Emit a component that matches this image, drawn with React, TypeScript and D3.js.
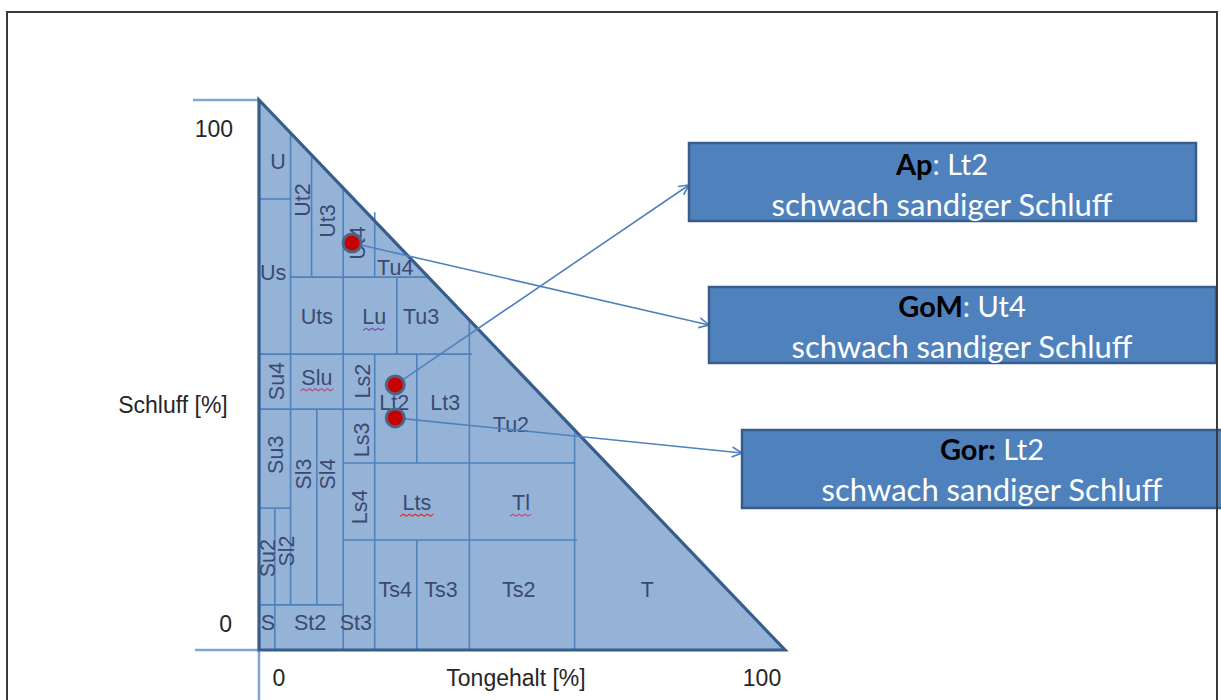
import React from "react";
import * as d3 from "d3";

// ---- data (percent units: clay = Tongehalt, silt = Schluff) ----
const clayDomain: [number, number] = [0, 100];
const siltDomain: [number, number] = [0, 100];
const clayTicks = [0, 100];
const siltTicks = [0, 100];
const clayTitle = "Tongehalt [%]";
const siltTitle = "Schluff [%]";

// class boundary segments [clay1, silt1, clay2, silt2]
const boundaries: [number, number, number, number][] = [
  [6, 94, 6, 8.2],
  [10, 90, 10, 67.8],
  [16, 84, 16, 0],
  [22, 79.6, 22, 67.8],
  [22, 53.8, 22, 0],
  [26.2, 67.8, 26.2, 53.8],
  [30, 53.8, 30, 34],
  [30, 20, 30, 0],
  [40, 60, 40, 0],
  [60, 39.5, 60, 0],
  [3, 25.8, 3, 0],
  [11, 43.8, 11, 8.2],
  [0, 82, 6, 82],
  [6, 67.8, 32.2, 67.8],
  [0, 53.8, 40.5, 53.8],
  [0, 43.8, 22, 43.8],
  [16, 34, 60, 34],
  [0, 25.8, 6, 25.8],
  [16, 20, 60.5, 20],
  [0, 8.2, 16, 8.2],
];

const classNames = ["U", "Ut2", "Ut3", "Ut4", "Tu4", "Us", "Uts", "Lu", "Tu3", "Su4", "Slu", "Ls2", "Lt2", "Lt3", "Tu2", "Su3", "Sl3", "Sl4", "Ls3", "Ls4", "Lts", "Tl", "Su2", "Sl2", "Ts4", "Ts3", "Ts2", "T", "S", "St2", "St3"];
const classClay = [3.6, 8.4, 13.1, 18.8, 25.9, 2.7, 11, 21.9, 30.8, 3.4, 11, 19.8, 25.7, 35.4, 47.9, 3.2, 8.6, 13.1, 19.6, 19.2, 30, 49.8, 1.7, 5.3, 25.9, 34.6, 49.4, 73.8, 1.7, 9.7, 18.4];
const classSilt = [88.7, 81.8, 78, 74, 69.5, 68.5, 60.5, 60.5, 60.5, 48.9, 49.5, 48.9, 44.9, 44.9, 40.9, 35.5, 32, 32, 38.2, 26, 26.7, 26.7, 16.7, 18, 10.9, 10.9, 10.9, 10.9, 4.9, 4.9, 4.9];
const classRotated = ["Ut2", "Ut3", "Ut4", "Su4", "Ls2", "Su3", "Sl3", "Sl4", "Ls3", "Ls4", "Su2", "Sl2"];
const squiggled = ["Lu", "Slu", "Lts", "Tl"];
const squiggleColors = ["#7a4fc0", "#d0407a", "#e02828", "#c04a8a"];

// samples
const horizons = ["Ap", "GoM", "Gor"];
const horizonHead = ["Ap", "GoM", "Gor:"];
const horizonClassText = [": Lt2", ": Ut4", " Lt2"];
const sampleClay = [25.9, 17.7, 25.9];
const sampleSilt = [48.2, 74, 42.2];
const description = "schwach sandiger Schluff";

// ---- layout ----
const W = 1221, H = 700;
const x = d3.scaleLinear().domain(clayDomain).range([259, 785]);
const y = d3.scaleLinear().domain(siltDomain).range([650, 100]);

const boxes = [
  { x: 689, y: 143, w: 507, h: 78, cx: 942, b1: 175, b2: 216, ey: 185 },
  { x: 709, y: 287, w: 507, h: 76, cx: 962, b1: 317, b2: 358, ey: 325 },
  { x: 742, y: 430, w: 520, h: 78, cx: 992, b1: 460, b2: 501, ey: 453 },
];

const LINE = "#4F81BD";
const DARK = "#385D8A";
const FILL = "#95B3D7";
const LABEL = "#3b4a70";
const TEXT = "#262626";
const AXIS = "#7fa5d4";

function squigglePath(cx: number, cy: number, w: number) {
  const p = d3.path();
  const x0 = cx - w / 2;
  const step = 3;
  p.moveTo(x0, cy);
  let up = true;
  for (let xx = x0 + step; xx <= x0 + w + 0.01; xx += step) {
    p.lineTo(xx, cy + (up ? -2 : 0));
    up = !up;
  }
  return p.toString();
}

export default function App() {
  const tri = d3.line()([
    [x(0), y(100)],
    [x(0), y(0)],
    [x(100), y(0)],
  ]) + "Z";

  return (
    <svg
      width={W}
      height={H}
      style={{ position: "absolute", left: 0, top: 0, background: "#fff" }}
      fontFamily="'Liberation Sans', Arial, sans-serif"
    >
      <defs>
        <marker id="arr" viewBox="0 0 12 12" refX="11" refY="6" markerWidth="12" markerHeight="12" markerUnits="userSpaceOnUse" orient="auto">
          <path d="M1,1 L11,6 L1,11" fill="none" stroke={LINE} strokeWidth={1.6} />
        </marker>
      </defs>
      <rect x={7} y={12} width={1210} height={720} fill="#fff" stroke="#3a3a3a" strokeWidth={2} />

      {/* axis extension lines */}
      <line x1={193} x2={x(0)} y1={y(siltTicks[1])} y2={y(siltTicks[1])} stroke={AXIS} strokeWidth={2.5} />
      <line x1={195} x2={x(0)} y1={y(siltTicks[0])} y2={y(siltTicks[0])} stroke={AXIS} strokeWidth={2.5} />
      <line x1={x(clayTicks[0])} x2={x(clayTicks[0])} y1={y(0)} y2={H} stroke={AXIS} strokeWidth={2.5} />

      <path d={tri} fill={FILL} />
      {boundaries.map((b, i) => (
        <line key={i} x1={x(b[0])} y1={y(b[1])} x2={x(b[2])} y2={y(b[3])} stroke={LINE} strokeWidth={1.6} />
      ))}
      <path d={tri} fill="none" stroke={DARK} strokeWidth={3.2} strokeLinejoin="miter" />

      {classNames.map((n, i) => {
        const px = x(classClay[i]);
        const py = y(classSilt[i]);
        const rot = classRotated.includes(n);
        return (
          <text key={n} transform={`translate(${px},${py})${rot ? " rotate(-90)" : ""}`} textAnchor="middle" dominantBaseline="central" fontSize={21.5} fill={LABEL}>
            {n}
          </text>
        );
      })}
      {squiggled.map((n, i) => {
        const k = classNames.indexOf(n);
        const w = n.length * 11;
        return <path key={n} d={squigglePath(x(classClay[k]), y(classSilt[k]) + 13, w)} fill="none" stroke={squiggleColors[i]} strokeWidth={1.2} />;
      })}

      {/* axis labels */}
      <text x={233} y={137} textAnchor="end" fontSize={23} fill={TEXT}>{siltTicks[1]}</text>
      <text x={232} y={632} textAnchor="end" fontSize={23} fill={TEXT}>{siltTicks[0]}</text>
      <text x={279} y={686} textAnchor="middle" fontSize={23} fill={TEXT}>{clayTicks[0]}</text>
      <text x={762} y={686} textAnchor="middle" fontSize={23} fill={TEXT}>{clayTicks[1]}</text>
      <text x={173} y={413} textAnchor="middle" fontSize={23} fill={TEXT}>{siltTitle}</text>
      <text x={516} y={686} textAnchor="middle" fontSize={23} fill={TEXT}>{clayTitle}</text>

      {/* arrows */}
      {horizons.map((h, i) => {
        const b = boxes[i];
        return (
          <line key={h} x1={x(sampleClay[i])} y1={y(sampleSilt[i])} x2={b.x} y2={b.ey} stroke={LINE} strokeWidth={1.6} markerEnd="url(#arr)" />
        );
      })}

      {/* sample points */}
      {horizons.map((h, i) => (
        <circle key={h} cx={x(sampleClay[i])} cy={y(sampleSilt[i])} r={9} fill="#c80000" stroke="#4d6485" strokeWidth={3} />
      ))}

      {/* boxes */}
      {horizons.map((h, i) => {
        const b = boxes[i];
        return (
          <g key={h}>
            <rect x={b.x} y={b.y} width={b.w} height={b.h} fill="#4F81BD" stroke={DARK} strokeWidth={2.5} />
            <text x={b.cx} y={b.b1} textAnchor="middle" fontFamily="Lato, 'Open Sans', sans-serif" fontSize={29}>
              <tspan fontWeight="bold" fill="#000">{horizonHead[i]}</tspan>
              <tspan fill="#fff">{horizonClassText[i]}</tspan>
            </text>
            <text x={b.cx} y={b.b2} textAnchor="middle" fontFamily="Lato, 'Open Sans', sans-serif" fontSize={31} fill="#fff">
              {description}
            </text>
          </g>
        );
      })}
      <line x1={1217} x2={1217} y1={12} y2={H} stroke="#3a3a3a" strokeWidth={2} />
    </svg>
  );
}
